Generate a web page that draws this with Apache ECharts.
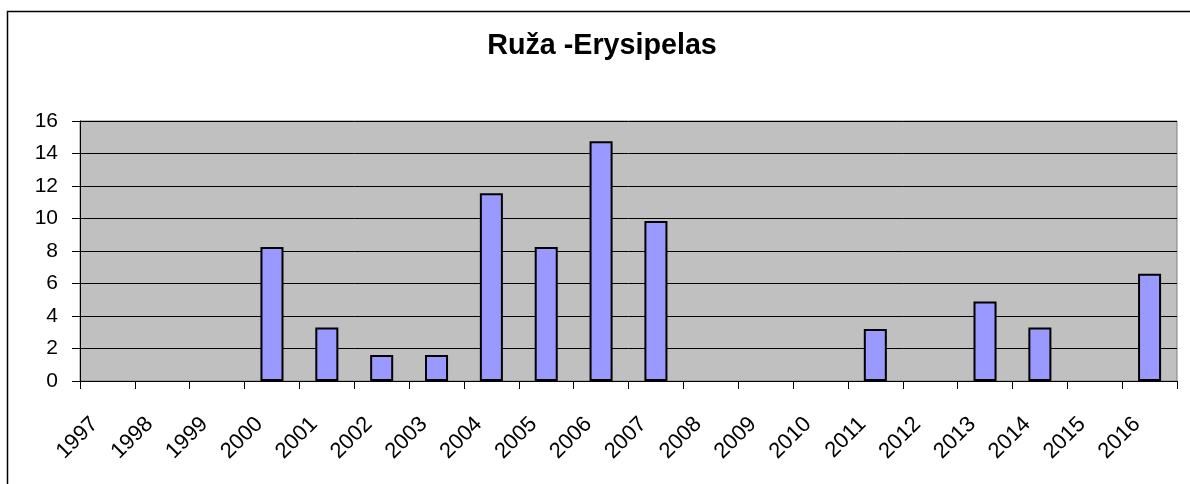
<!DOCTYPE html>
<html>
<head>
<meta charset="utf-8">
<script src="https://cdn.jsdelivr.net/npm/echarts@6/dist/echarts.min.js"></script>
<style>
html,body{margin:0;padding:0;background:#fff;}
#chart{width:1190px;height:484px;}
</style>
</head>
<body>
<div id="chart"></div>
<script>
var titleText = 'Ruža -Erysipelas';
var categories = ['1997','1998','1999','2000','2001','2002','2003','2004','2005','2006','2007','2008','2009','2010','2011','2012','2013','2014','2015','2016'];
var values = [0,0,0,8.25,3.3,1.6,1.6,11.55,8.25,14.75,9.85,0,0,0,3.2,0,4.9,3.3,0,6.6];
var yTicks = {min:0, max:16, interval:2};

var barData = values.map(function(v){
  return v === 0 ? {value:v, itemStyle:{borderWidth:0, opacity:0}} : v;
});

var chart = echarts.init(document.getElementById('chart'), null, {renderer:'canvas'});
var font = '"Liberation Sans", Arial, sans-serif';
chart.setOption({
  animation:false,
  backgroundColor:'#ffffff',
  title:{
    text:titleText,
    left:597, top:27, textAlign:'center',
    textStyle:{fontFamily:font, fontSize:28.7, fontWeight:'bold', color:'#000'}
  },
  graphic:[
    {type:'rect', shape:{x:7.5, y:11.5, width:1200, height:500}, style:{fill:null, stroke:'#000', lineWidth:1.5}, z:-10}
  ],
  grid:{left:80, right:13, top:121, bottom:103, show:true, backgroundColor:'#c0c0c0', borderColor:'#808080', borderWidth:1},
  xAxis:{
    type:'category', data:categories, boundaryGap:true,
    axisLine:{show:true, lineStyle:{color:'#000', width:1}},
    axisTick:{show:true, length:8, interval:0, lineStyle:{color:'#000'}},
    axisLabel:{interval:0, rotate:45, margin:27, fontFamily:font, fontSize:22, color:'#000', padding:[0,18,0,0]},
    splitLine:{show:false}
  },
  yAxis:{
    type:'value', min:yTicks.min, max:yTicks.max, interval:yTicks.interval,
    axisLine:{show:true, lineStyle:{color:'#000', width:1}},
    axisTick:{show:true, length:8, lineStyle:{color:'#000'}},
    axisLabel:{margin:22, fontFamily:font, fontSize:21, color:'#000'},
    splitLine:{show:true, lineStyle:{color:'#000', width:1}}
  },
  series:[{
    type:'bar', data:barData, barWidth:'42%',
    itemStyle:{color:'#9999ff', borderColor:'#000', borderWidth:2}
  }]
});
</script>
</body>
</html>
